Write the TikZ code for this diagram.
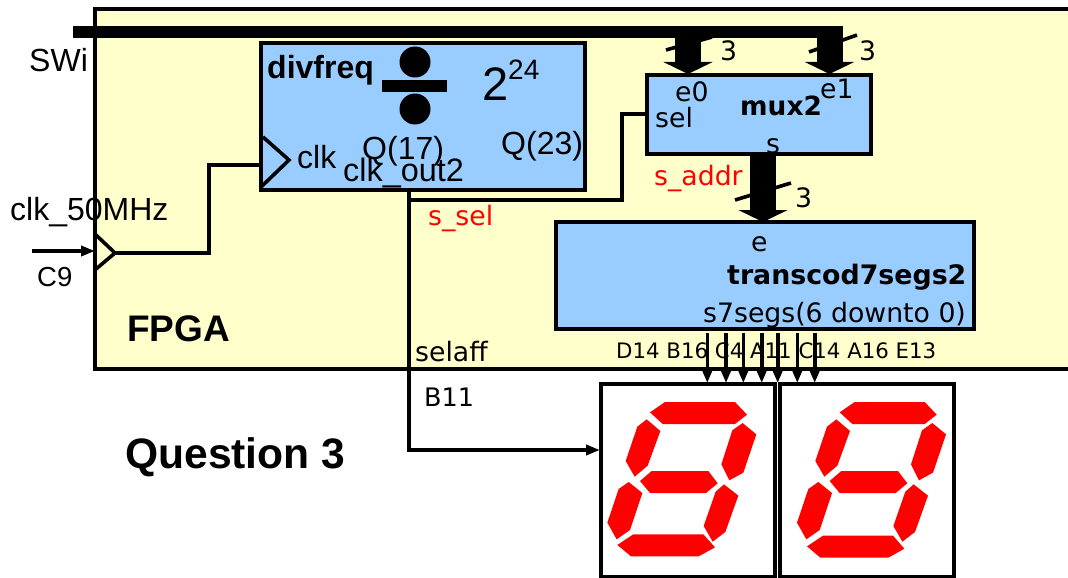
\documentclass[tikz,border=0pt]{standalone}
\usepackage{fontspec}
\setmainfont{Liberation Sans}
\newfontfamily\dv{DejaVu Sans}
\usetikzlibrary{arrows.meta}
\definecolor{fpgabg}{HTML}{FFFFCC}
\definecolor{blockbg}{HTML}{99CCFF}
\newcommand{\fs}[1]{\fontsize{#1}{#1}\selectfont}
\tikzset{
  x=1pt,y=-1pt,
  wire/.style={line width=3.6pt,line cap=butt,line join=miter},
  blockbox/.style={draw=black,line width=3.6pt,fill=blockbg,inner sep=0pt,outer sep=0pt,rectangle},
  lab/.style={inner sep=0pt,anchor=base west,text=black},
  lib/.style={lab,font=\fs{32}},
  dej/.style={lab,font=\dv\fs{26.7}},
  dejred/.style={lab,font=\dv\fs{26.7},text=red},
  bus/.style={line width=26pt,-{Triangle[width=49pt,length=12pt]}},
  tick/.style={line width=3.6pt},
  pinarrow/.style={line width=3.6pt,-{Triangle[width=9pt,length=12pt]}},
  digitbox/.style={draw=black,line width=3.6pt,fill=white,inner sep=0pt,outer sep=0pt,rectangle,minimum width=174pt,minimum height=193pt},
  seg/.style={fill=red,draw=none},
}
\begin{document}
\begin{tikzpicture}
\useasboundingbox (0,0) rectangle (1068,578);
% FPGA
\begin{scope}
\clip (0,0) rectangle (1068,578);
\node[draw=black,line width=3.6pt,fill=fpgabg,inner sep=0pt,outer sep=0pt,rectangle,minimum width=1000pt,minimum height=360pt,anchor=north west] (fpga) at (95,9) {};
\end{scope}
% blocks
\node[blockbox,minimum width=324pt,minimum height=147pt,anchor=north west] (div) at (261,43) {};
\node[blockbox,minimum width=224pt,minimum height=79pt,anchor=north west] (mux) at (647,75) {};
\node[blockbox,minimum width=418pt,minimum height=107pt,anchor=north west] (tc) at (556,222) {};
\node[digitbox,anchor=north west] (d1) at (601,384) {};
\node[digitbox,anchor=north west] (d2) at (780,384) {};
% named points
\coordinate (busL) at (73,32);
\coordinate (busR) at (843,32);
\coordinate (b0) at (688,32);
\coordinate (b1) at (829.5,32);
\coordinate (m0) at (688,74);
\coordinate (m1) at (829.5,74);
\coordinate (ms) at (763,153);
\coordinate (te) at (763,222);
\coordinate (inL) at (32,251);
\coordinate (inR) at (95,251);
\coordinate (ct) at (115,253);
\coordinate (cj) at (209,253);
\coordinate (dclk) at (261,165);
\coordinate (qo) at (409,190);
\coordinate (qj) at (409,200);
\coordinate (qm) at (622,200);
\coordinate (msel) at (647,114);
\coordinate (d1in) at (600,450);
% bus
\draw[tick] (666,50) -- (712,37);
\draw[tick] (809,52) -- (857,35);
\draw[tick] (735,200) -- (791,183);
\draw[line width=12pt] (busL) -- (busR);
\draw[bus] (b0) -- (m0);
\draw[bus] (b1) -- (m1);
\draw[bus] (ms) -- (te);
% clock
\draw[wire] (96,235) -- (ct) -- (96,269);
\draw[wire,-{Triangle[width=10pt,length=14pt]}] (inL) -- (inR);
\draw[wire] (ct) -- (cj) -- (209,165) -- (dclk);
\draw[wire] (263,137) -- (289,160) -- (260,188);
% selection
\draw[wire] (qj) -- (qm) -- (622,114) -- (msel);
\draw[wire,-{Triangle[width=10pt,length=14pt]}] (qo) -- (409,450) -- (d1in);
% pin arrows
\foreach \n/\p in {a/707.3,b/726,c/743.3,d/761.7,e/777.7,f/797.3,g/814.7}{
  \coordinate (s\n) at (\p,333);
  \coordinate (t\n) at (\p,383);
}
\foreach \n in {a,b,c,d,e,f,g}{ \draw[pinarrow] (s\n) -- (t\n); }
% divider symbol
\fill (415,62) circle (15.5);
\fill (415,109) circle (15.5);
\fill (382,80) rectangle (447,92);
% texts
\node[lib] (tswi) at (29,72) {SWi};
\node[lib] (tclk50) at (10,220) {clk\_50MHz};
\node[lab,font=\fs{27.5}] (tc9) at (37,286) {C9};
\node[lab,font=\bfseries\fs{37}] (tfpga) at (127,341) {FPGA};
\node[lab,font=\bfseries\fs{42.6}] (tq3) at (125,468) {Question 3};
\node[lab,font=\bfseries\fs{32}] (tdiv) at (267,78) {divfreq};
\node[lab,font=\fs{47}] (t2) at (482,100) {2};
\node[lab,font=\fs{28}] (t24) at (508,79) {24};
\node[lib] (tclk) at (297,168) {clk};
\node[lib] (tq17) at (362,159) {Q(17)};
\node[lib] (tq23) at (501,154) {Q(23)};
\node[lab,font=\fs{32.4}] (tout) at (343,181) {clk\_out2};
\node[dej] (te0) at (675,101) {e0};
\node[dej] (te1) at (820,98) {e1};
\node[dej] (tsel) at (655,127) {sel};
\node[lab,font=\dv\bfseries\fs{26.4}] (tmux) at (740,115) {mux2};
\node[dej] (ts) at (766,153) {s};
\node[dejred] (taddr) at (654,185) {s\_addr};
\node[dej] (t3a) at (720,60) {3};
\node[dej] (t3b) at (859,60) {3};
\node[dej] (t3c) at (795,207) {3};
\node[dej] (tee) at (751,251) {e};
\node[lab,font=\dv\bfseries\fs{26.8}] (ttc) at (727,284) {transcod7segs2};
\node[dej] (t7) at (703,322) {s7segs(6 downto 0)};
\node[dejred] (tssel) at (428,225) {s\_sel};
\node[dej] (tself) at (415,361) {selaff};
\node[lab,font=\dv\fs{25.5}] (tb11) at (424,406) {B11};
\node[lab,font=\dv\fs{21.3}] (tpins) at (616,358) {D14 B16 C4 A11 C14 A16 E13};
% digit 1
\begin{scope}[shift={(600,320)},x=0.33333pt,y=-0.33333pt]
\fill[seg] (150,277)--(195,246)--(405,246)--(441,284)--(405,312)--(188,312)--cycle;
\fill[seg] (140,298)--(181,333)--(143,437)--(104,470)--(77,423)--(112,320)--cycle;
\fill[seg] (428,309)--(469,343)--(430,458)--(388,481)--(364,433)--(397,331)--cycle;
\fill[seg] (120,483)--(155,453)--(325,453)--(353,490)--(318,519)--(150,519)--cycle;
\fill[seg] (86,486)--(127,519)--(90,630)--(50,658)--(22,608)--(56,507)--cycle;
\fill[seg] (372,493)--(415,527)--(376,636)--(338,665)--(311,618)--(347,515)--cycle;
\fill[seg] (52,675)--(100,643)--(310,643)--(345,682)--(296,709)--(93,709)--cycle;
\end{scope}
% digit 2
\begin{scope}[shift={(789.67,320)},x=0.33333pt,y=-0.33333pt]
\fill[seg] (150,277)--(195,246)--(405,246)--(441,284)--(405,312)--(188,312)--cycle;
\fill[seg] (140,298)--(181,333)--(143,437)--(104,470)--(77,423)--(112,320)--cycle;
\fill[seg] (428,309)--(469,343)--(430,458)--(388,481)--(364,433)--(397,331)--cycle;
\fill[seg] (120,483)--(155,453)--(325,453)--(353,490)--(318,519)--(150,519)--cycle;
\fill[seg] (86,486)--(127,519)--(90,630)--(50,658)--(22,608)--(56,507)--cycle;
\fill[seg] (372,493)--(415,527)--(376,636)--(338,665)--(311,618)--(347,515)--cycle;
\fill[seg] (52,679)--(100,647)--(310,647)--(344,686)--(296,713)--(92,713)--cycle;
\end{scope}
\end{tikzpicture}
\end{document}
